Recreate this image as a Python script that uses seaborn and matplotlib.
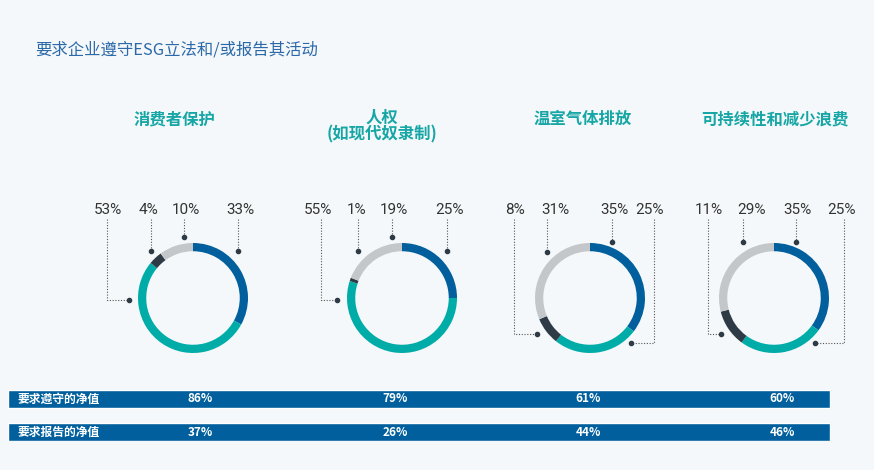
import matplotlib
matplotlib.use("Agg")
import matplotlib.pyplot as plt
import seaborn as sns

sns.set_theme(style="white")
plt.rcParams['font.family'] = ['Noto Sans CJK SC', 'DejaVu Sans']

# data
topics = ["消费者保护", "人权\n(如现代奴隶制)", "温室气体排放", "可持续性和减少浪费"]
share_blue = [33, 25, 35, 35]
share_teal = [53, 55, 25, 25]
share_dark = [4, 1, 8, 11]
share_gray = [10, 19, 31, 29]
row_labels = ["要求遵守的净值", "要求报告的净值"]
compliance_net = [86, 79, 61, 60]
reporting_net = [37, 26, 44, 46]

# colours
BG = '#f5f8fa'
C_BLUE = '#005f9c'
C_TEAL = '#00aca7'
C_DARK = '#2e3b46'
C_GRAY = '#c4c7ca'
TITLE_BLUE = '#2b69a8'
TITLE_TEAL = '#16a6a5'

# layout in pixels (874 x 470 canvas)
W, H = 874, 470
donut_cx = [193, 402, 590, 774]
donut_cy = 298
donut_r = 55
title_x = [175, 382, 583, 775]
# leader lines per chart: (segment, label x, line x, dot x, dot y)
leaders = [
    [('teal', 108, 107, 129, 300), ('dark', 148, 151, 151, 251),
     ('gray', 186, 184, 184, 237), ('blue', 240, 238, 238, 251)],
    [('teal', 318, 321, 337, 300), ('dark', 357, 358, 358, 251),
     ('gray', 394, 392, 392, 237), ('blue', 449, 447, 447, 251)],
    [('dark', 515, 514, 537, 334), ('gray', 555, 547, 547, 252),
     ('blue', 614, 612, 612, 242), ('teal', 650, 654, 631, 343)],
    [('dark', 709, 708, 721, 334), ('gray', 751, 743, 743, 242),
     ('blue', 797, 796, 796, 242), ('teal', 842, 844, 815, 343)],
]
value_x = [200, 395, 588, 782]

fig = plt.figure(figsize=(W / 100, H / 100), dpi=100, facecolor=BG)

# net value rows (drawn first, underneath the text overlay)
tax = fig.add_axes([8 / W, (H - 441) / H, 822 / W, 51 / H])
sns.barplot(x=[1, 1], y=row_labels, orient='h', color=C_BLUE,
            saturation=1, width=18 / 33, ax=tax)
tax.set_xlim(0, 1)
tax.set_ylim(1 + 9 / 33, -9 / 33)
tax.axis('off')

# overlay axes in pixel coordinates for text and leader lines
ax = fig.add_axes([0, 0, 1, 1])
ax.set_zorder(10)
ax.set_xlim(0, W)
ax.set_ylim(H, 0)
ax.axis('off')

ax.text(35, 50, "要求企业遵守ESG立法和/或报告其活动", fontsize=11.8,
        color=TITLE_BLUE, ha='left', va='center')

for i, topic in enumerate(topics):
    ax.text(title_x[i], 126 if '\n' in topic else 119, topic, fontsize=11.8,
            fontweight='bold', color=TITLE_TEAL, ha='center', va='center',
            linespacing=0.95)

    shares = {'blue': share_blue[i], 'teal': share_teal[i],
              'dark': share_dark[i], 'gray': share_gray[i]}

    # donut
    dax = fig.add_axes([(donut_cx[i] - donut_r) / W,
                        (H - donut_cy - donut_r) / H,
                        2 * donut_r / W, 2 * donut_r / H])
    dax.pie([shares['blue'], shares['teal'], shares['dark'], shares['gray']],
            colors=[C_BLUE, C_TEAL, C_DARK, C_GRAY], startangle=90,
            counterclock=False, radius=1,
            wedgeprops=dict(width=0.15, linewidth=0))
    dax.set_xlim(-1, 1)
    dax.set_ylim(-1, 1)
    dax.set_aspect('equal')
    dax.axis('off')

    # labels with dotted leaders
    for seg, lx, linex, dx, dy in leaders[i]:
        ax.text(lx, 210, f"{shares[seg]}%", fontsize=11, color='#333333',
                ha='center', va='center', family=['Roboto', 'DejaVu Sans'])
        ax.plot([linex, linex, dx], [219, dy, dy], color='#555555',
                lw=0.8, ls=(0, (1, 1.5)))
        ax.plot(dx, dy, 'o', color=C_DARK, ms=3)

for r, vals in enumerate([compliance_net, reporting_net]):
    yc = 399 + 33 * r
    ax.text(17, yc, row_labels[r], fontsize=8.5, fontweight='bold',
            color='white', ha='left', va='center')
    for j, v in enumerate(vals):
        ax.text(value_x[j], yc, f"{v}%", fontsize=8.5, fontweight='bold',
                color='white', ha='center', va='center')

fig.savefig("out.png", dpi=100, facecolor=BG)
